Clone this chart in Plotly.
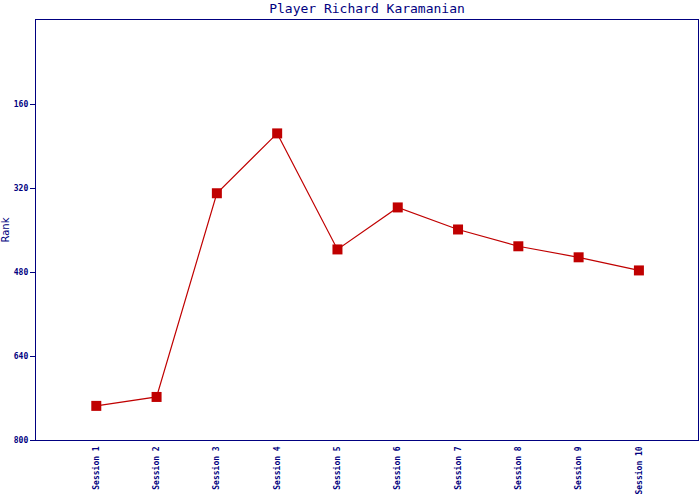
import plotly.graph_objects as go

sessions = ["Session 1", "Session 2", "Session 3", "Session 4", "Session 5",
            "Session 6", "Session 7", "Session 8", "Session 9", "Session 10"]
ranks = [735, 718, 330, 216, 437, 357, 399, 431, 452, 477]
y_ticks = [160, 320, 480, 640, 800]

navy = "#000080"
red = "#c00000"

fig = go.Figure()
fig.add_trace(go.Scatter(
    x=sessions, y=ranks, mode="lines+markers",
    line=dict(color=red, width=1.2),
    marker=dict(symbol="square", size=10, color=red),
    showlegend=False,
))

fig.update_layout(
    width=700, height=500,
    margin=dict(l=36, r=2, t=20, b=60, autoexpand=False),
    paper_bgcolor="white", plot_bgcolor="white",
    title=dict(text="Player Richard Karamanian", x=0.5, xref="paper",
               y=0.984, yref="container", yanchor="middle",
               font=dict(family="DejaVu Sans Mono", size=13, color=navy)),
    font=dict(family="DejaVu Sans Mono", color=navy),
)
fig.update_xaxes(
    type="category", range=[-1, 9.98], showgrid=False, zeroline=False,
    showline=True, mirror=True, linecolor=navy, linewidth=1.3,
    ticks="", tickangle=-90, automargin=False, ticklabelstandoff=2,
    tickfont=dict(family="DejaVu Sans Mono", size=8, color=navy, weight="bold"),
)
fig.update_yaxes(
    autorange=False, range=[800, 0], tickvals=y_ticks,
    ticktext=[str(v) for v in y_ticks], automargin=False,
    showgrid=False, zeroline=False,
    showline=True, mirror=True, linecolor=navy, linewidth=1.3,
    ticks="outside", ticklen=5, tickcolor=navy, tickwidth=1.3,
    tickfont=dict(family="DejaVu Sans Mono", size=8, color=navy, weight="bold"),
    title=dict(text="Rank", standoff=2,
               font=dict(family="DejaVu Sans", size=10, color=navy)),
)

fig.write_html("out.html", config={"displayModeBar": False},
               post_script="document.body.style.margin='0';")
